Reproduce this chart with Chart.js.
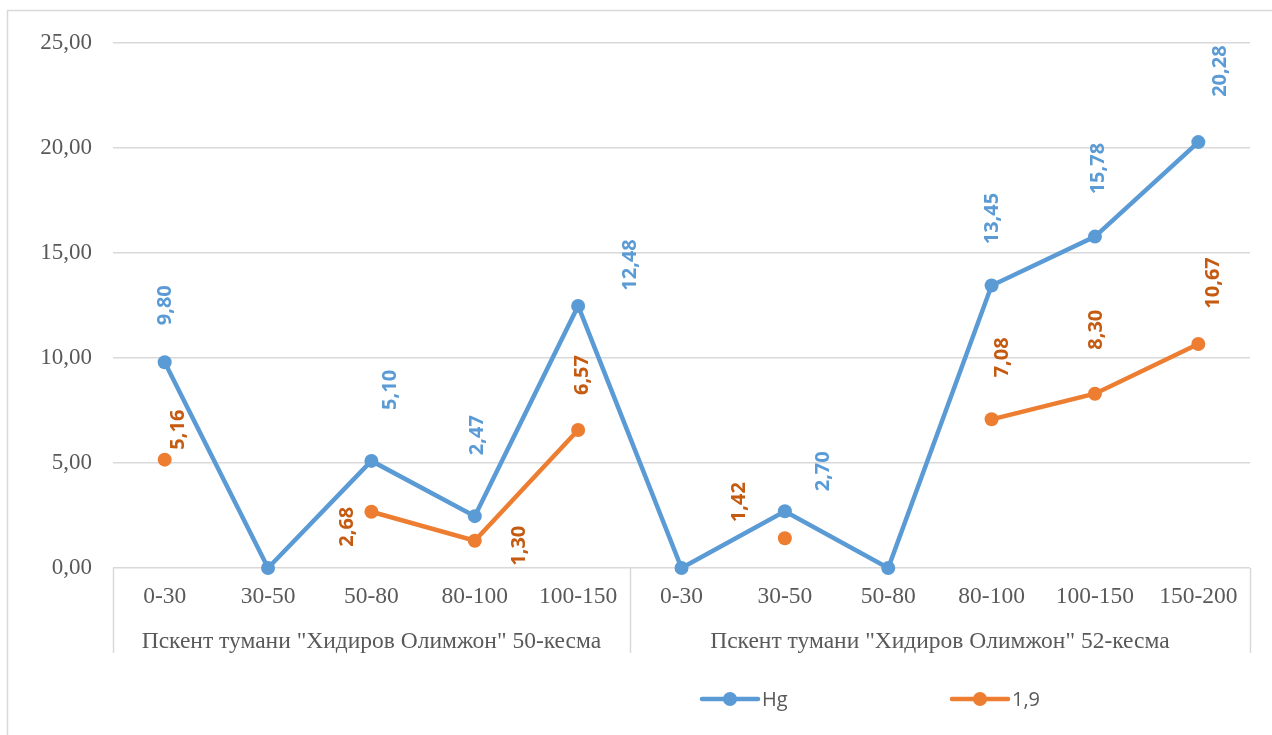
<!DOCTYPE html>
<html lang="uz">
<head>
<meta charset="UTF-8">
<title>Hg ва 1,9 — Пскент тумани</title>
<script src="https://cdn.jsdelivr.net/npm/chart.js@4.4.1/dist/chart.umd.min.js"></script>
<style>
    body { margin: 0; background: #fff; }
    canvas { display: block; }
</style>
</head>
<body>
<canvas id="chart" width="1272" height="735"></canvas>
<script>
// depth intervals (cm) and the two sampling plots they belong to
const depths = ['0-30', '30-50', '50-80', '80-100', '100-150',
                '0-30', '30-50', '50-80', '80-100', '100-150', '150-200'];
const groups = ['Пскент тумани "Хидиров Олимжон" 50-кесма',
                'Пскент тумани "Хидиров Олимжон" 52-кесма'];
const groupSizes = [5, 6];

const hgValues = [9.80, 0, 5.10, 2.47, 12.48, 0, 2.70, 0, 13.45, 15.78, 20.28];
const refValues = [5.16, null, 2.68, 1.30, 6.57, null, 1.42, null, 7.08, 8.30, 10.67];

const yTicks = [0, 5, 10, 15, 20, 25];

// where each value label sits relative to its point (px), null = no label
const hgLabelShift = [[0, -57], null, [18, -71], [2, -81], [51, -41], null,
                      [37, -40], null, [0, -67], [2, -68], [21, -71]];
const refLabelShift = [[13, -30], null, [-25, 15], [44, 5], [3, -55], null,
                       [-47, -36], null, [10, -62], [0, -64], [14, -61]];

const BLUE = '#5B9BD5';
const ORANGE = '#ED7D31';
const GREY = '#595959';
const GRID = '#D9D9D9';
const SERIF = '"Liberation Serif", "Times New Roman", serif';
const SANS = '"Open Sans", "Liberation Sans", sans-serif';

const fmt = v => v.toFixed(2).replace('.', ',');

// frame around the whole chart
const framePlugin = {
    id: 'frame',
    beforeDraw(chart) {
        const ctx = chart.ctx;
        ctx.save();
        ctx.fillStyle = '#fff';
        ctx.fillRect(0, 0, chart.width, chart.height);
        ctx.strokeStyle = GRID;
        ctx.lineWidth = 1.5;
        ctx.strokeRect(7.5, 10.5, 1400, 900);
        ctx.restore();
    }
};

// second category level: plot names and separators
const groupAxisPlugin = {
    id: 'groupAxis',
    afterDraw(chart) {
        const ctx = chart.ctx;
        const x = chart.scales.x;
        const area = chart.chartArea;
        const bottom = 653;
        const edges = [area.left];
        let idx = 0;
        groupSizes.forEach((n, g) => {
            idx += n;
            if (idx < depths.length) {
                edges.push((x.getPixelForValue(idx - 1) + x.getPixelForValue(idx)) / 2);
            } else {
                edges.push(area.right);
            }
        });
        ctx.save();
        ctx.strokeStyle = GRID;
        ctx.lineWidth = 1.5;
        edges.forEach(e => {
            ctx.beginPath();
            ctx.moveTo(Math.round(e) + 0.5, area.bottom);
            ctx.lineTo(Math.round(e) + 0.5, bottom);
            ctx.stroke();
        });
        ctx.fillStyle = GREY;
        ctx.font = '23.5px ' + SERIF;
        ctx.textAlign = 'center';
        ctx.textBaseline = 'middle';
        groups.forEach((name, g) => {
            ctx.fillText(name, (edges[g] + edges[g + 1]) / 2, 642);
        });
        ctx.restore();
    }
};

// rotated value labels next to the points
const valueLabelPlugin = {
    id: 'valueLabels',
    afterDatasetsDraw(chart) {
        const ctx = chart.ctx;
        const shifts = [hgLabelShift, refLabelShift];
        const colors = [BLUE, '#C55A11'];
        ctx.save();
        ctx.font = 'bold 20px ' + SANS;
        ctx.textAlign = 'center';
        ctx.textBaseline = 'middle';
        chart.data.datasets.forEach((ds, d) => {
            const meta = chart.getDatasetMeta(d);
            meta.data.forEach((pt, i) => {
                const v = ds.data[i];
                const s = shifts[d][i];
                if (v === null || !s) return;
                ctx.save();
                ctx.translate(pt.x + s[0], pt.y + s[1]);
                ctx.rotate(-Math.PI / 2);
                ctx.fillStyle = colors[d];
                ctx.fillText(fmt(v), 0, 1);
                ctx.restore();
            });
        });
        ctx.restore();
    }
};

// legend under the plot
const legendPlugin = {
    id: 'bottomLegend',
    afterDraw(chart) {
        const ctx = chart.ctx;
        const starts = [702, 952];
        const y = 699;
        ctx.save();
        chart.data.datasets.forEach((ds, d) => {
            const x0 = starts[d];
            ctx.strokeStyle = ds.borderColor;
            ctx.lineWidth = 4.5;
            ctx.lineCap = 'round';
            ctx.beginPath();
            ctx.moveTo(x0, y);
            ctx.lineTo(x0 + 56, y);
            ctx.stroke();
            ctx.fillStyle = ds.backgroundColor;
            ctx.beginPath();
            ctx.arc(x0 + 28, y, 7, 0, Math.PI * 2);
            ctx.fill();
            ctx.fillStyle = GREY;
            ctx.font = '20px ' + SANS;
            ctx.textAlign = 'left';
            ctx.textBaseline = 'middle';
            ctx.fillText(ds.label, x0 + 60, y + 1);
        });
        ctx.restore();
    }
};

new Chart(document.getElementById('chart'), {
    type: 'line',
    data: {
        labels: depths,
        datasets: [
            {
                label: 'Hg',
                data: hgValues,
                borderColor: BLUE,
                backgroundColor: BLUE,
                borderWidth: 4.5,
                pointRadius: 7,
                pointHoverRadius: 7,
                pointBorderWidth: 0,
                tension: 0,
                clip: false
            },
            {
                label: '1,9',
                data: refValues,
                borderColor: ORANGE,
                backgroundColor: ORANGE,
                borderWidth: 4.5,
                pointRadius: 7,
                pointHoverRadius: 7,
                pointBorderWidth: 0,
                tension: 0,
                spanGaps: false,
                clip: false
            }
        ]
    },
    options: {
        responsive: false,
        animation: false,
        layout: { padding: { top: 43, right: 22, left: 0, bottom: 0 } },
        plugins: {
            legend: { display: false },
            tooltip: { enabled: false }
        },
        scales: {
            x: {
                offset: true,
                grid: { display: false, drawTicks: false },
                border: { display: false },
                ticks: {
                    color: GREY,
                    font: { family: SERIF, size: 23.5 },
                    padding: 15,
                    maxRotation: 0,
                    autoSkip: false
                },
                afterFit(scale) { scale.height = 167; }
            },
            y: {
                min: 0,
                max: 25,
                afterBuildTicks(scale) {
                    scale.ticks = yTicks.map(v => ({ value: v }));
                },
                grid: { color: GRID, lineWidth: 1.5, drawTicks: false },
                border: { display: false },
                ticks: {
                    color: GREY,
                    font: { family: SERIF, size: 23 },
                    padding: 21,
                    callback: v => fmt(v)
                },
                afterFit(scale) { scale.width = 113; }
            }
        }
    },
    plugins: [framePlugin, groupAxisPlugin, valueLabelPlugin, legendPlugin]
});
</script>
</body>
</html>
